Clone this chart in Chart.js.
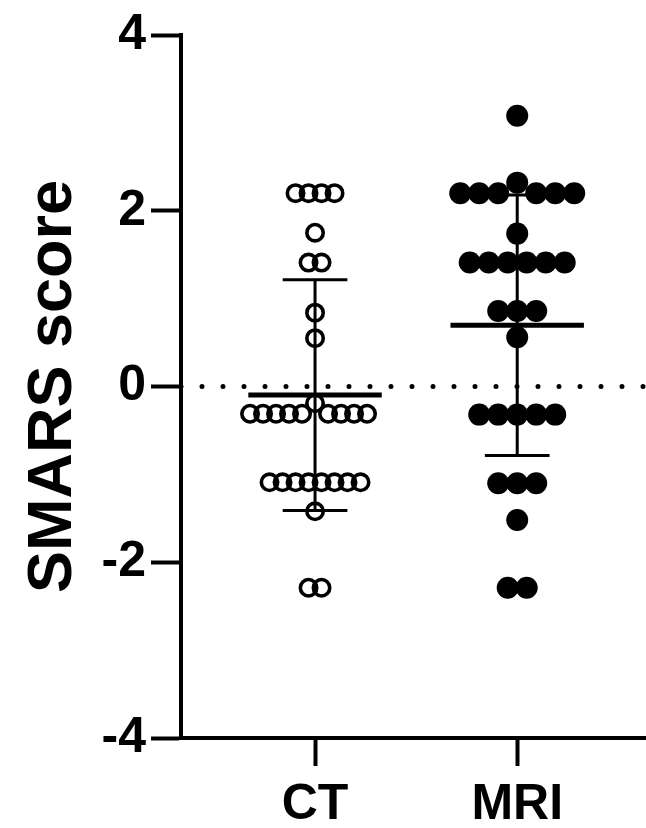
<!DOCTYPE html>
<html>
<head>
<meta charset="utf-8">
<script src="https://cdn.jsdelivr.net/npm/chart.js@4"></script>
<style>
  html, body { margin: 0; padding: 0; background: #fff; }
  canvas { display: block; }
</style>
</head>
<body>
<canvas id="scoreChart" width="646" height="828"></canvas>
<script>
const categories = ['CT', 'MRI'];
const yTicks = [-4, -2, 0, 2, 4];

// individual SMARS scores
const ctScores = [
  2.2, 2.2, 2.2, 2.2, 1.75, 1.41, 1.41, 0.84, 0.55, -0.19,
  -0.31, -0.31, -0.31, -0.31, -0.31, -0.31, -0.31, -0.31, -0.31,
  -1.09, -1.09, -1.09, -1.09, -1.09, -1.09, -1.09, -1.09,
  -1.42, -2.29, -2.29
];
const mriScores = [
  3.08, 2.32, 2.2, 2.2, 2.2, 2.2, 2.2, 2.2, 1.74,
  1.41, 1.41, 1.41, 1.41, 1.41, 1.41, 0.86, 0.86, 0.86, 0.56,
  -0.32, -0.32, -0.32, -0.32, -0.32, -1.1, -1.1, -1.1, -1.52, -2.29, -2.29
];

const X_MIN = -0.663, X_MAX = 1.637;
const PX_PER_X = 465 / (X_MAX - X_MIN);
const PX_PER_Y = 703 / 8;

// spread equal values sideways like a column scatter
function swarm(values, center, step) {
  const rows = {};
  values.forEach(v => (rows[v] = rows[v] || []).push(v));
  const keys = Object.keys(rows).map(Number).sort((a, b) => b - a);
  const placed = [];
  const hits = (d, v) => placed.some(p => Math.hypot(p.d - d, (p.v - v) * PX_PER_Y) < step - 0.01);
  keys.forEach(v => {
    const n = rows[v].length;
    const sym = rows[v].map((_, i) => (i - (n - 1) / 2) * step);
    if (sym.every(d => !hits(d, v))) {
      sym.forEach(d => placed.push({ d, v }));
      return;
    }
    for (let i = 0; i < n; i++) {
      for (let k = 0; k < 40; k++) {
        const tries = k === 0 ? [0] : [-k * step / 2, k * step / 2];
        const free = tries.find(d => !hits(d, v));
        if (free !== undefined) { placed.push({ d: free, v }); break; }
      }
    }
  });
  return placed.map(p => ({ x: center + p.d / PX_PER_X, y: p.v }));
}

function stats(values) {
  const mean = values.reduce((a, b) => a + b, 0) / values.length;
  const sd = Math.sqrt(values.reduce((a, b) => a + (b - mean) ** 2, 0) / (values.length - 1));
  return { mean, sd };
}

function meanLine(values, c) {
  const s = stats(values);
  return [{ x: c - 0.33, y: s.mean }, { x: c + 0.33, y: s.mean }];
}

function sdLines(values, c) {
  const s = stats(values);
  const hi = s.mean + s.sd, lo = s.mean - s.sd;
  return [
    { x: c, y: hi }, { x: c, y: lo }, { x: c, y: null },
    { x: c - 0.16, y: hi }, { x: c + 0.16, y: hi }, { x: c, y: null },
    { x: c - 0.16, y: lo }, { x: c + 0.16, y: lo }
  ];
}

const lineSet = (data, width) => ({
  type: 'scatter', data, showLine: true, spanGaps: false,
  borderColor: '#000', borderWidth: width, pointRadius: 0, borderCapStyle: 'butt'
});

const ctx = document.getElementById('scoreChart').getContext('2d');

new Chart(ctx, {
  type: 'scatter',
  data: {
    datasets: [
      lineSet(meanLine(ctScores, 0), 5),
      lineSet(meanLine(mriScores, 1), 5),
      lineSet(sdLines(ctScores, 0), 3),
      lineSet(sdLines(mriScores, 1), 3),
      {
        data: swarm(ctScores, 0, 13),
        pointStyle: 'circle', pointRadius: 8.2, borderWidth: 3.6,
        borderColor: '#000', backgroundColor: 'rgba(0,0,0,0)'
      },
      {
        data: swarm(mriScores, 1, 19),
        pointStyle: 'circle', pointRadius: 11, borderWidth: 0,
        borderColor: '#000', backgroundColor: '#000'
      },
      {
        // dotted zero line
        data: [{ x: X_MIN, y: 0 }, { x: X_MAX, y: 0 }],
        showLine: true, pointRadius: 0, borderColor: '#000', borderWidth: 5,
        borderDash: [0, 21], borderCapStyle: 'round'
      }
    ]
  },
  options: {
    responsive: false,
    animation: false,
    devicePixelRatio: 1,
    layout: { autoPadding: false, padding: { top: 35, right: 0, bottom: 0, left: 0 } },
    plugins: {
      legend: { display: false },
      tooltip: { enabled: false }
    },
    scales: {
      x: {
        type: 'linear',
        min: X_MIN,
        max: X_MAX,
        afterBuildTicks: (scale) => { scale.ticks = categories.map((_, i) => ({ value: i })); },
        afterFit: (scale) => { scale.height = 90; },
        ticks: {
          callback: (v) => categories[v],
          color: '#000',
          padding: 9,
          maxRotation: 0,
          font: { family: 'Liberation Sans, Arial, sans-serif', size: 50, weight: 'bold' }
        },
        grid: { drawOnChartArea: false, drawTicks: true, tickLength: 28, tickWidth: 4, tickColor: '#000' },
        border: { display: true, color: '#000', width: 4 }
      },
      y: {
        min: -4,
        max: 4,
        afterBuildTicks: (scale) => { scale.ticks = yTicks.map(v => ({ value: v })); },
        afterFit: (scale) => { scale.width = 181; },
        ticks: {
          color: '#000',
          padding: 5,
          font: { family: 'Liberation Sans, Arial, sans-serif', size: 50, weight: 'bold' }
        },
        title: {
          display: true,
          text: 'SMARS score',
          color: '#000',
          padding: { top: 16, bottom: 0 },
          font: { family: 'Liberation Sans, Arial, sans-serif', size: 63, weight: 'bold' }
        },
        grid: { drawOnChartArea: false, drawTicks: true, tickLength: 30, tickWidth: 4, tickColor: '#000' },
        border: { display: true, color: '#000', width: 4 }
      }
    }
  }
});
</script>
</body>
</html>
